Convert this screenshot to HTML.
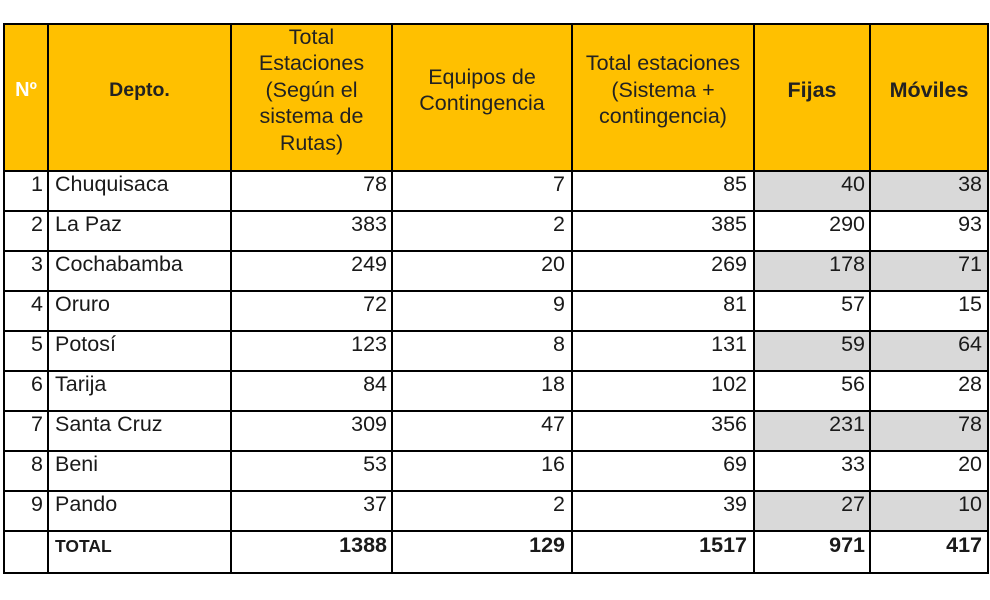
<!DOCTYPE html>
<html>
<head>
<meta charset="utf-8">
<style>
html,body{margin:0;padding:0;background:#fff;}
#c{position:relative;width:990px;height:600px;overflow:hidden;background:#fff;font-family:"Liberation Sans",Arial,sans-serif;color:#1a1a1a;}
.r{position:absolute;}
.v{position:absolute;top:23px;height:551px;width:2px;background:#000;}
.h{position:absolute;left:3px;width:986px;height:2px;background:#000;}
.hd{position:absolute;top:24px;height:132px;display:flex;align-items:center;justify-content:center;text-align:center;line-height:26.5px;font-size:21.5px;color:#222;}
.b{font-weight:bold;}
.t{position:absolute;font-size:21.5px;line-height:24px;white-space:nowrap;}
.rt{text-align:right;}
</style>
</head>
<body>
<div id="c">
  <div class="r" style="left:4px;top:24px;width:984px;height:147px;background:#FFC000;"></div>
  <div class="r" style="left:754px;top:171px;width:234px;height:40px;background:#D9D9D9;"></div>
  <div class="r" style="left:754px;top:251px;width:234px;height:40px;background:#D9D9D9;"></div>
  <div class="r" style="left:754px;top:331px;width:234px;height:40px;background:#D9D9D9;"></div>
  <div class="r" style="left:754px;top:411px;width:234px;height:40px;background:#D9D9D9;"></div>
  <div class="r" style="left:754px;top:491px;width:234px;height:40px;background:#D9D9D9;"></div>

  <div class="hd b" style="left:4px;width:44px;color:#fff;font-size:20px;">Nº</div>
  <div class="hd b" style="left:48px;width:183px;font-size:19.5px;">Depto.</div>
  <div class="hd" style="left:231px;width:161px;">Total<br>Estaciones<br>(Según el<br>sistema de<br>Rutas)</div>
  <div class="hd" style="left:392px;width:180px;">Equipos de<br>Contingencia</div>
  <div class="hd" style="left:572px;width:182px;">Total estaciones<br>(Sistema +<br>contingencia)</div>
  <div class="hd b" style="left:754px;width:116px;">Fijas</div>
  <div class="hd b" style="left:870px;width:118px;">Móviles</div>

  <div class="t rt" style="top:172px;left:4px;width:39px;">1</div>
  <div class="t" style="top:172px;left:55px;">Chuquisaca</div>
  <div class="t rt" style="top:172px;left:231px;width:156px;">78</div>
  <div class="t rt" style="top:172px;left:392px;width:173px;">7</div>
  <div class="t rt" style="top:172px;left:572px;width:175px;">85</div>
  <div class="t rt" style="top:172px;left:754px;width:111px;">40</div>
  <div class="t rt" style="top:172px;left:870px;width:112px;">38</div>

  <div class="t rt" style="top:212px;left:4px;width:39px;">2</div>
  <div class="t" style="top:212px;left:55px;">La Paz</div>
  <div class="t rt" style="top:212px;left:231px;width:156px;">383</div>
  <div class="t rt" style="top:212px;left:392px;width:173px;">2</div>
  <div class="t rt" style="top:212px;left:572px;width:175px;">385</div>
  <div class="t rt" style="top:212px;left:754px;width:111px;">290</div>
  <div class="t rt" style="top:212px;left:870px;width:112px;">93</div>

  <div class="t rt" style="top:252px;left:4px;width:39px;">3</div>
  <div class="t" style="top:252px;left:55px;">Cochabamba</div>
  <div class="t rt" style="top:252px;left:231px;width:156px;">249</div>
  <div class="t rt" style="top:252px;left:392px;width:173px;">20</div>
  <div class="t rt" style="top:252px;left:572px;width:175px;">269</div>
  <div class="t rt" style="top:252px;left:754px;width:111px;">178</div>
  <div class="t rt" style="top:252px;left:870px;width:112px;">71</div>

  <div class="t rt" style="top:292px;left:4px;width:39px;">4</div>
  <div class="t" style="top:292px;left:55px;">Oruro</div>
  <div class="t rt" style="top:292px;left:231px;width:156px;">72</div>
  <div class="t rt" style="top:292px;left:392px;width:173px;">9</div>
  <div class="t rt" style="top:292px;left:572px;width:175px;">81</div>
  <div class="t rt" style="top:292px;left:754px;width:111px;">57</div>
  <div class="t rt" style="top:292px;left:870px;width:112px;">15</div>

  <div class="t rt" style="top:332px;left:4px;width:39px;">5</div>
  <div class="t" style="top:332px;left:55px;">Potosí</div>
  <div class="t rt" style="top:332px;left:231px;width:156px;">123</div>
  <div class="t rt" style="top:332px;left:392px;width:173px;">8</div>
  <div class="t rt" style="top:332px;left:572px;width:175px;">131</div>
  <div class="t rt" style="top:332px;left:754px;width:111px;">59</div>
  <div class="t rt" style="top:332px;left:870px;width:112px;">64</div>

  <div class="t rt" style="top:372px;left:4px;width:39px;">6</div>
  <div class="t" style="top:372px;left:55px;">Tarija</div>
  <div class="t rt" style="top:372px;left:231px;width:156px;">84</div>
  <div class="t rt" style="top:372px;left:392px;width:173px;">18</div>
  <div class="t rt" style="top:372px;left:572px;width:175px;">102</div>
  <div class="t rt" style="top:372px;left:754px;width:111px;">56</div>
  <div class="t rt" style="top:372px;left:870px;width:112px;">28</div>

  <div class="t rt" style="top:412px;left:4px;width:39px;">7</div>
  <div class="t" style="top:412px;left:55px;">Santa Cruz</div>
  <div class="t rt" style="top:412px;left:231px;width:156px;">309</div>
  <div class="t rt" style="top:412px;left:392px;width:173px;">47</div>
  <div class="t rt" style="top:412px;left:572px;width:175px;">356</div>
  <div class="t rt" style="top:412px;left:754px;width:111px;">231</div>
  <div class="t rt" style="top:412px;left:870px;width:112px;">78</div>

  <div class="t rt" style="top:452px;left:4px;width:39px;">8</div>
  <div class="t" style="top:452px;left:55px;">Beni</div>
  <div class="t rt" style="top:452px;left:231px;width:156px;">53</div>
  <div class="t rt" style="top:452px;left:392px;width:173px;">16</div>
  <div class="t rt" style="top:452px;left:572px;width:175px;">69</div>
  <div class="t rt" style="top:452px;left:754px;width:111px;">33</div>
  <div class="t rt" style="top:452px;left:870px;width:112px;">20</div>

  <div class="t rt" style="top:492px;left:4px;width:39px;">9</div>
  <div class="t" style="top:492px;left:55px;">Pando</div>
  <div class="t rt" style="top:492px;left:231px;width:156px;">37</div>
  <div class="t rt" style="top:492px;left:392px;width:173px;">2</div>
  <div class="t rt" style="top:492px;left:572px;width:175px;">39</div>
  <div class="t rt" style="top:492px;left:754px;width:111px;">27</div>
  <div class="t rt" style="top:492px;left:870px;width:112px;">10</div>

  <div class="t b" style="top:536px;left:55px;font-size:17.5px;line-height:20px;">TOTAL</div>
  <div class="t rt b" style="top:533px;left:231px;width:156px;">1388</div>
  <div class="t rt b" style="top:533px;left:392px;width:173px;">129</div>
  <div class="t rt b" style="top:533px;left:572px;width:175px;">1517</div>
  <div class="t rt b" style="top:533px;left:754px;width:111px;">971</div>
  <div class="t rt b" style="top:533px;left:870px;width:112px;">417</div>

  <div class="v" style="left:3px;"></div>
  <div class="v" style="left:47px;"></div>
  <div class="v" style="left:230px;"></div>
  <div class="v" style="left:391px;"></div>
  <div class="v" style="left:571px;"></div>
  <div class="v" style="left:753px;"></div>
  <div class="v" style="left:869px;"></div>
  <div class="v" style="left:987px;"></div>

  <div class="h" style="top:23px;"></div>
  <div class="h" style="top:170px;"></div>
  <div class="h" style="top:210px;"></div>
  <div class="h" style="top:250px;"></div>
  <div class="h" style="top:290px;"></div>
  <div class="h" style="top:330px;"></div>
  <div class="h" style="top:370px;"></div>
  <div class="h" style="top:410px;"></div>
  <div class="h" style="top:450px;"></div>
  <div class="h" style="top:490px;"></div>
  <div class="h" style="top:530px;"></div>
  <div class="h" style="top:572px;"></div>
</div>
</body>
</html>
